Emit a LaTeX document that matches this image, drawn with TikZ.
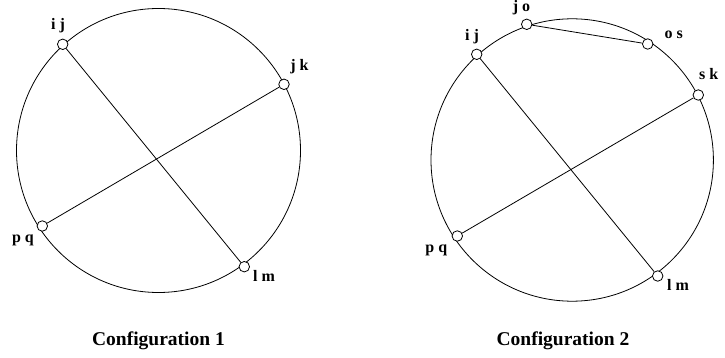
\documentclass[tikz,border=0pt]{standalone}
\usepackage{fontspec}
\setmainfont{Liberation Serif}
\begin{document}
\begin{tikzpicture}[x=1pt,y=-1pt,
  big/.style={draw=black,line width=0.8pt},
  dot/.style={circle,draw=black,fill=white,line width=0.8pt,minimum size=10.5pt,inner sep=0pt},
  chord/.style={draw=black,line width=0.8pt},
  lbl/.style={anchor=base,font=\fontsize{16}{16}\selectfont\bfseries,inner sep=0pt},
  captext/.style={anchor=base,font=\fontsize{19.5}{20}\selectfont\bfseries,inner sep=0pt}]
\useasboundingbox (0,0) rectangle (725,358);
% Configuration 1
\coordinate (c1) at (158.5,150.5);
\draw[big] (c1) circle[radius=142pt];
\node[dot] (a1) at (62.7,44.3) {};
\node[dot] (b1) at (284,84.3) {};
\node[dot] (p1) at (42.3,226) {};
\node[dot] (l1) at (244.3,266.7) {};
\draw[chord] (a1) -- (l1);
\draw[chord] (p1) -- (b1);
\node[lbl] (ta1) at (58,30) {i j};
\node[lbl] (tb1) at (299.5,70.7) {j k};
\node[lbl] (tp1) at (23,242.7) {p q};
\node[lbl] (tl1) at (264,281) {l m};
\node[captext] (cap1) at (158.5,345) {Configuration 1};
% Configuration 2
\coordinate (c2) at (572.2,160);
\draw[big] (c2) circle[radius=141.2pt];
\node[dot] (o2) at (526.7,24.3) {};
\node[dot] (s2) at (647.7,44) {};
\node[dot] (a2) at (476.7,54.3) {};
\node[dot] (k2) at (698.3,95) {};
\node[dot] (p2) at (457.3,236) {};
\node[dot] (l2) at (657.7,276) {};
\draw[chord] (o2) -- (s2);
\draw[chord] (a2) -- (l2);
\draw[chord] (p2) -- (k2);
\node[lbl] (to2) at (521.5,11.5) {j o};
\node[lbl] (ta2) at (472,40.7) {i j};
\node[lbl] (ts2) at (673.7,39) {o s};
\node[lbl] (tk2) at (708.7,80) {s k};
\node[lbl] (tp2) at (436.3,252.7) {p q};
\node[lbl] (tl2) at (678,290) {l m};
\node[captext] (cap2) at (563,345) {Configuration 2};
\end{tikzpicture}
\end{document}
